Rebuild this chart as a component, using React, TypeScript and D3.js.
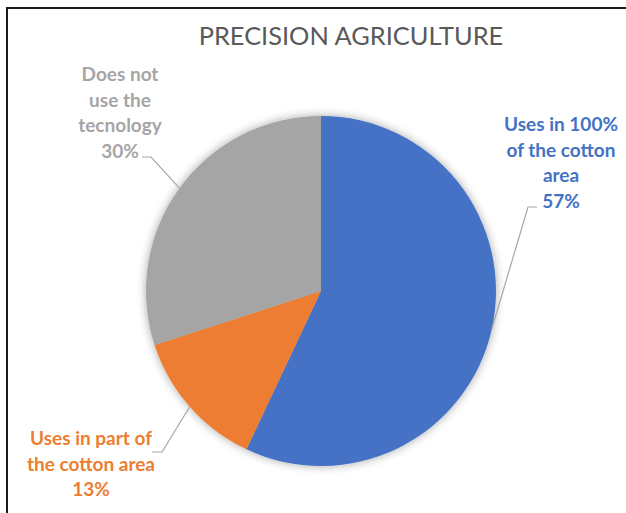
import * as d3 from 'd3';

const categories = ['Uses in 100% of the cotton area', 'Uses in part of the cotton area', 'Does not use the tecnology'];
const values = [57, 13, 30];
const labelLines = [
  ['Uses in 100%', 'of the cotton', 'area', '57%'],
  ['Uses in part of', 'the cotton area', '13%'],
  ['Does not', 'use the', 'tecnology', '30%'],
];
const colors = ['#4472C4', '#ED7D31', '#A5A5A5'];

const W = 626;
const H = 513;
const cx = 321;
const cy = 291;
const R = 175;
const FONT = 'Lato, "Open Sans", sans-serif';

// label block centre x, first line y, elbow point
const labelLayout = [
  { x: 561, y: 131, elbow: [528, 207], end: [537, 207] },
  { x: 91, y: 445, elbow: [162, 452], end: [152, 452] },
  { x: 120, y: 81, elbow: [151, 157], end: [142, 157] },
];

export default function App() {
  const pie = d3.pie<number>().sort(null).value(d => d);
  const arcs = pie(values);
  const arc = d3.arc<d3.PieArcDatum<number>>().innerRadius(0).outerRadius(R);
  const lineH = 25.5;

  return (
    <svg width={W} height={H} style={{ position: 'absolute', left: 0, top: 0, background: '#fff' }}>
      <defs>
        <filter id="shadow" x="-20%" y="-20%" width="140%" height="140%">
          <feDropShadow dx="0" dy="0" stdDeviation="5" floodColor="#000" floodOpacity="0.35" />
        </filter>
      </defs>
      <rect x={0} y={0} width={W} height={H} fill="#fff" />
      <path d={`M7,${H} L7,8 L${W},8`} fill="none" stroke="#1a1a1a" strokeWidth={2} />
      <text x={351} y={45} textAnchor="middle" fontFamily={FONT} fontSize={25.4} fill="#595959">
        PRECISION AGRICULTURE
      </text>
      <g transform={`translate(${cx},${cy})`} filter="url(#shadow)">
        {arcs.map((a, i) => (
          <path key={categories[i]} d={arc(a) || ''} fill={colors[i]} />
        ))}
      </g>
      {arcs.map((a, i) => {
        const mid = (a.startAngle + a.endAngle) / 2;
        const ax = cx + R * Math.sin(mid);
        const ay = cy - R * Math.cos(mid);
        const L = labelLayout[i];
        return (
          <g key={'lbl' + i}>
            <polyline
              points={`${ax},${ay} ${L.elbow[0]},${L.elbow[1]} ${L.end[0]},${L.end[1]}`}
              fill="none"
              stroke="#a6a6a6"
              strokeWidth={1.2}
            />
            <text textAnchor="middle" fontFamily={FONT} fontWeight="bold" fontSize={19} fill={colors[i]}>
              {labelLines[i].map((t, j) => (
                <tspan key={j} x={L.x} y={L.y + j * lineH}>{t}</tspan>
              ))}
            </text>
          </g>
        );
      })}
    </svg>
  );
}
